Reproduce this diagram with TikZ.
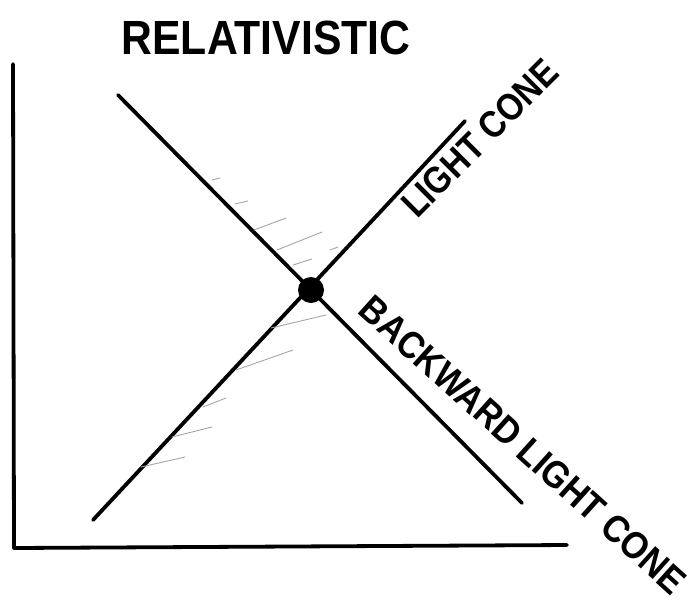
\documentclass[tikz,border=0pt]{standalone}
\usepackage{fontspec}
\setmainfont{Liberation Sans}
\begin{document}
\begin{tikzpicture}[x=1pt,y=-1pt,
  stroke/.style={line width=3.8pt,line cap=round,line join=round},
  hatch/.style={line width=0.9pt,gray!70,line cap=round},
  hand/.style={inner sep=0pt,font=\fontsize{38}{38}\selectfont\bfseries}]
\useasboundingbox (0,0) rectangle (698,603);
% axes
\coordinate (ytop) at (13,64);
\coordinate (orig) at (14,548);
\coordinate (xend) at (567,545);
\draw[stroke] (ytop) -- (orig) -- (xend);
% event
\node[circle,fill=black,minimum size=26pt,inner sep=0pt] (ev) at (311,290) {};
% backward light cone line
\coordinate (b1) at (118,95);
\coordinate (b2) at (522,503);
\draw[stroke] (b1) -- (b2);
% light cone line
\coordinate (f1) at (93,520);
\coordinate (f2) at (465,121);
\draw[stroke] (f1) -- (f2);
% hatching
\draw[hatch] (254,230) -- (286,218);
\draw[hatch] (277,250) -- (322,232);
\draw[hatch] (293,265) -- (312,259);
\draw[hatch] (212,180) -- (220,178);
\draw[hatch] (235,204) -- (248,201);
\draw[hatch] (330,250) -- (338,247);
\draw[hatch] (271,328) -- (326,315);
\draw[hatch] (236,370) -- (293,350);
\draw[hatch] (203,407) -- (226,398);
\draw[hatch] (172,437) -- (212,427);
\draw[hatch] (141,467) -- (185,457);
% labels
\node[hand,font=\fontsize{48}{48}\selectfont\bfseries,xscale=0.89] (title) at (266,38) {RELATIVISTIC};
\node[hand,rotate=45,xscale=0.87] (lc) at (480,138) {LIGHT CONE};
\node[hand,rotate=-42,xscale=0.9] (blc) at (523,445) {BACKWARD LIGHT CONE};
\end{tikzpicture}
\end{document}
